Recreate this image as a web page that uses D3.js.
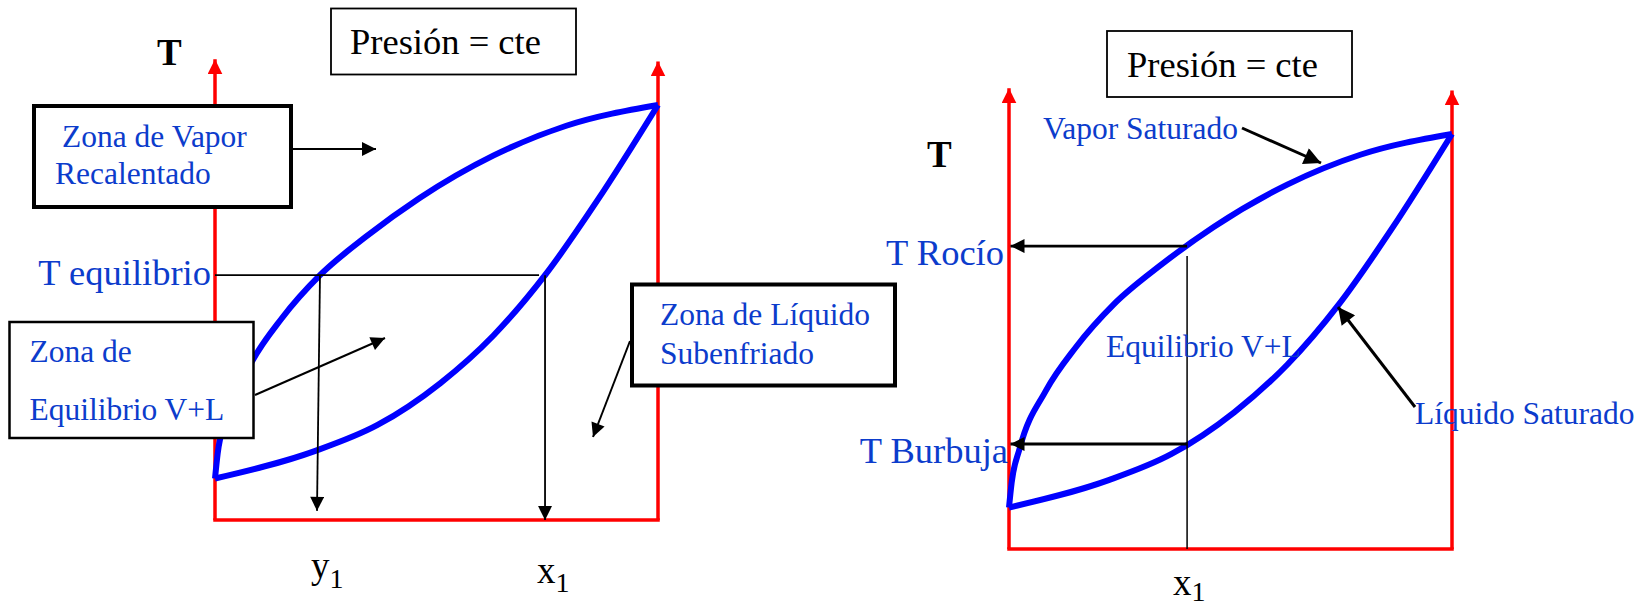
<!DOCTYPE html>
<html>
<head>
<meta charset="utf-8">
<script src="https://cdn.jsdelivr.net/npm/d3@7"></script>
<style>
  body { margin: 0; background: #fff; }
  text { font-family: "Liberation Serif", "Times New Roman", serif; }
</style>
</head>
<body>
<div id="chart"></div>
<script>
// curva de vapor saturado (punto de rocío): fracción molar vs T relativa (0-100)
const vaporX = [0, 0.006, 0.024, 0.083, 0.15, 0.237, 0.34, 0.462, 0.628, 0.793, 1.0];
const vaporT = [10, 16, 24.2, 38.1, 48.5, 59, 68.2, 77.6, 87.8, 95, 100];
// curva de líquido saturado (punto de burbuja)
const liquidoX = [0, 0.225, 0.367, 0.509, 0.628, 0.745, 0.865, 1.0];
const liquidoT = [10, 16.6, 22.9, 33, 44.4, 59, 77.3, 100];

// diagrama izquierdo: temperatura de equilibrio y composiciones
const tEquilibrio = 59;
const y1Eq = 0.237, x1Eq = 0.745;
// diagrama derecho: mezcla x1 y sus temperaturas de burbuja / rocío
const x1Mezcla = 0.402;
const tRocio = 73, tBurbuja = 25.3;

const tMax = 111; // punta de los ejes rojos

const width = 1645, height = 607;
const azul = "#0000ff", azulTexto = "#0c3ccc", rojo = "#ff0000";

const svg = d3.select("#chart").append("svg")
  .attr("width", width)
  .attr("height", height)
  .style("background", "#fff");

const defs = svg.append("defs");
function marker(id, len, w, color) {
  defs.append("marker")
    .attr("id", id)
    .attr("viewBox", "0 0 10 10")
    .attr("refX", 10).attr("refY", 5)
    .attr("markerUnits", "userSpaceOnUse")
    .attr("markerWidth", len).attr("markerHeight", w)
    .attr("orient", "auto")
    .append("path")
    .attr("d", "M0,0L10,5L0,10Z")
    .attr("fill", color);
}
marker("flechaRoja", 15, 15, rojo);
marker("flecha", 15, 14, "#000");
marker("flechaMedia", 17, 14, "#000");
marker("flechaGrande", 21, 17, "#000");

const W = 443, H = 415;
const x = d3.scaleLinear().domain([0, 1]).range([0, W]);
const y = d3.scaleLinear().domain([0, 100]).range([0, -H]);

const line = d3.line()
  .x(d => x(d[0]))
  .y(d => y(d[1]))
  .curve(d3.curveMonotoneX);

function arrow(g, x1, y1, x2, y2, w, m) {
  g.append("line")
    .attr("x1", x1).attr("y1", y1)
    .attr("x2", x2).attr("y2", y2)
    .attr("stroke", "#000")
    .attr("stroke-width", w)
    .attr("marker-end", m ? `url(#${m})` : null);
}

function box(g, bx, by, bw, bh, sw) {
  g.append("rect")
    .attr("x", bx).attr("y", by)
    .attr("width", bw).attr("height", bh)
    .attr("fill", "#fff")
    .attr("stroke", "#000")
    .attr("stroke-width", sw);
}

function label(g, tx, ty, txt, size, color, anchor) {
  return g.append("text")
    .attr("x", tx).attr("y", ty)
    .attr("font-size", size)
    .attr("fill", color || azulTexto)
    .attr("text-anchor", anchor || "start")
    .text(txt);
}

function subLabel(g, tx, ty, main, sub, dy) {
  const t = g.append("text")
    .attr("x", tx).attr("y", ty)
    .attr("font-size", 37)
    .attr("fill", "#000");
  t.append("tspan").text(main);
  t.append("tspan").attr("font-size", 28).attr("dy", dy).text(sub);
}

function panel(ox, oy) {
  const g = svg.append("g").attr("transform", `translate(${ox},${oy})`);
  // ejes rojos
  g.append("line")
    .attr("x1", x(0)).attr("x2", x(0))
    .attr("y1", y(0)).attr("y2", y(tMax))
    .attr("stroke", rojo).attr("stroke-width", 3.5)
    .attr("marker-end", "url(#flechaRoja)");
  g.append("line")
    .attr("x1", x(1)).attr("x2", x(1))
    .attr("y1", y(0)).attr("y2", y(tMax - 0.5))
    .attr("stroke", rojo).attr("stroke-width", 3.5)
    .attr("marker-end", "url(#flechaRoja)");
  g.append("line")
    .attr("x1", x(0)).attr("x2", x(1))
    .attr("y1", y(0)).attr("y2", y(0))
    .attr("stroke", rojo).attr("stroke-width", 3.5)
    .attr("stroke-linecap", "square");
  return g;
}

function curves(g) {
  g.append("path")
    .datum(d3.zip(liquidoX, liquidoT))
    .attr("fill", "none")
    .attr("stroke", azul)
    .attr("stroke-width", 6)
    .attr("stroke-linejoin", "round")
    .attr("d", line);
  g.append("path")
    .datum(d3.zip(vaporX, vaporT))
    .attr("fill", "none")
    .attr("stroke", azul)
    .attr("stroke-width", 6)
    .attr("stroke-linejoin", "round")
    .attr("d", line);
}

// ------ Diagrama izquierdo ------
const gL = panel(215, 520);
curves(gL);

gL.append("line")
  .attr("x1", x(0)).attr("x2", x(x1Eq) - 6)
  .attr("y1", y(tEquilibrio)).attr("y2", y(tEquilibrio))
  .attr("stroke", "#000").attr("stroke-width", 1.8);
arrow(gL, x(y1Eq), y(tEquilibrio), x(y1Eq) - 3, y(2.2), 1.8, "flecha");
arrow(gL, x(x1Eq), y(tEquilibrio), x(x1Eq), y(0), 1.8, "flecha");

const capaL = svg.append("g");
arrow(capaL, 291, 149, 376, 149, 2, "flecha");
arrow(capaL, 255, 395, 385, 338, 2, "flecha");
arrow(capaL, 630, 341, 593, 437, 2, "flecha");

box(capaL, 331, 8.5, 245, 66, 1.8);
label(capaL, 350, 53.5, "Presión = cte", 36.5, "#000");

label(capaL, 157, 65, "T", 37, "#000").attr("font-weight", "bold");

box(capaL, 34, 106, 257, 101, 4);
label(capaL, 62, 147, "Zona de Vapor", 31.5);
label(capaL, 55, 184, "Recalentado", 31.5);

label(capaL, 211, 285, "T equilibrio", 36.5, null, "end");

box(capaL, 9.5, 322, 244, 116, 2.5);
label(capaL, 29.5, 362, "Zona de", 31.5);
label(capaL, 29.5, 419.5, "Equilibrio V+L", 31.5);

box(capaL, 632, 284.5, 263, 101, 4);
label(capaL, 660, 325, "Zona de Líquido", 31.5);
label(capaL, 660, 363.5, "Subenfriado", 31.5);

subLabel(gL, x(y1Eq) - 9, 58, "y", "1", 10);
subLabel(gL, x(x1Eq) - 8, 63, "x", "1", 9);

// ------ Diagrama derecho ------
const gR = panel(1009, 549);
curves(gR);

gR.append("line")
  .attr("x1", x(x1Mezcla)).attr("x2", x(x1Mezcla))
  .attr("y1", y(tRocio - 2.4)).attr("y2", y(0))
  .attr("stroke", "#000").attr("stroke-width", 1.5);
arrow(gR, x(x1Mezcla), y(tRocio), x(0) + 1.5, y(tRocio), 2.8, "flechaMedia");
arrow(gR, x(x1Mezcla), y(tBurbuja), x(0) + 1.5, y(tBurbuja), 2.8, "flechaMedia");

const capaR = svg.append("g");
box(capaR, 1107, 31, 245, 66, 1.8);
label(capaR, 1127, 77, "Presión = cte", 36.5, "#000");
label(capaR, 927, 167, "T", 37, "#000").attr("font-weight", "bold");

label(capaR, 1043, 139, "Vapor Saturado", 31.5);
arrow(capaR, 1242, 128, 1321, 163, 3, "flechaGrande");

label(capaR, 1106, 357, "Equilibrio V+L", 31.5);

label(capaR, 1415, 424, "Líquido Saturado", 31.5);
arrow(capaR, 1415, 407, 1338, 307, 3, "flechaGrande");

label(capaR, 1004, 265, "T Rocío", 36.5, null, "end");
label(capaR, 1008, 463, "T Burbuja", 36.5, null, "end");

subLabel(gR, x(x1Mezcla) - 14, 46, "x", "1", 6);
</script>
</body>
</html>
